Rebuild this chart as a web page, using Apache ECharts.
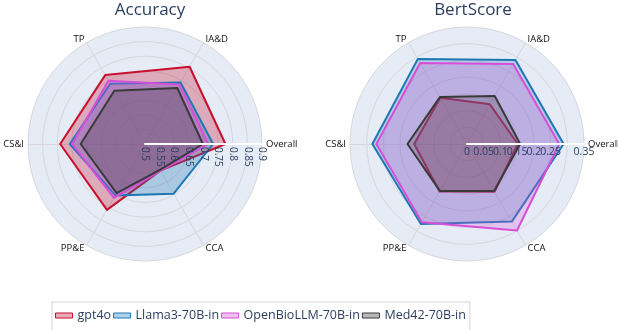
<!DOCTYPE html>
<html>
<head>
<meta charset="utf-8">
<script src="https://cdn.jsdelivr.net/npm/echarts@6/dist/echarts.min.js"></script>
<style>
  html, body { margin: 0; padding: 0; background: #fff; }
  #main { width: 618px; height: 330px; }
</style>
</head>
<body>
<div id="main"></div>
<script>
// categories and models
var categories = ['Overall', 'IA&D', 'TP', 'CS&I', 'PP&E', 'CCA'];
var models = ['gpt4o', 'Llama3-70B-in', 'OpenBioLLM-70B-in', 'Med42-70B-in'];
var colors = ['#c8102e', '#1f77b4', '#d64fd8', '#3a3a3a'];

// Accuracy (radial 0.5 - 0.9)
var accGpt4o   = [0.775, 0.805, 0.772, 0.790, 0.760, 0.605];
var accLlama   = [0.733, 0.743, 0.738, 0.757, 0.703, 0.696];
var accOpenBio = [0.716, 0.735, 0.750, 0.749, 0.713, 0.606];
var accMed42   = [0.698, 0.721, 0.710, 0.720, 0.694, 0.602];

// BertScore (radial 0 - 0.35)
var bertGpt4o   = [0.152, 0.137, 0.160, 0.158, 0.164, 0.165];
var bertLlama   = [0.289, 0.290, 0.294, 0.283, 0.276, 0.268];
var bertOpenBio = [0.276, 0.276, 0.280, 0.271, 0.270, 0.299];
var bertMed42   = [0.159, 0.166, 0.162, 0.178, 0.162, 0.162];

var accMin = 0.5, accMax = 0.9, accSplit = 8;
var bertMin = 0, bertMax = 0.35, bertSplit = 7;

var accData = [accGpt4o, accLlama, accOpenBio, accMed42];
var bertData = [bertGpt4o, bertLlama, bertOpenBio, bertMed42];

var font = "'Open Sans', 'DejaVu Sans', sans-serif";
var titleColor = '#2a3f5f';

// tick text like 0.05 instead of 0.0499999
function tickFmt(v) {
    return String(parseFloat(Number(v).toFixed(2)));
}

// background radar: disc, grid circles, spokes, category names
function bgRadar(center, min, max, split) {
    return {
        center: center,
        radius: 117,
        startAngle: 0,
        shape: 'circle',
        splitNumber: split,
        z: 0,
        indicator: categories.map(function (c) { return {name: c, min: min, max: max}; }),
        axisName: {color: '#111111', fontSize: 9.5, fontFamily: font},
        axisNameGap: 4,
        splitArea: {show: true, areaStyle: {color: ['#E5ECF6']}},
        splitLine: {lineStyle: {color: '#d6d7dc', width: 1}},
        axisLine: {lineStyle: {color: '#d6d7dc', width: 1}},
        axisTick: {show: false},
        axisLabel: {show: false}
    };
}

// overlay radar: only the radial axis line + tick labels on Overall, drawn above the fills
function topRadar(center, min, max, split, labelOpt) {
    return {
        center: center,
        radius: 117,
        startAngle: 0,
        shape: 'circle',
        splitNumber: split,
        z: 10,
        indicator: categories.map(function (c, i) {
            var ind = {name: c, min: min, max: max};
            if (i === 0) {
                ind.axisLine = {show: true, lineStyle: {color: '#ffffff', width: 2}};
                ind.axisLabel = labelOpt;
            }
            return ind;
        }),
        axisName: {show: false},
        splitArea: {show: false},
        splitLine: {show: false},
        axisLine: {show: false},
        axisTick: {show: false},
        axisLabel: {show: false}
    };
}

function radarSeries(radarIndex, data, alpha) {
    return {
        type: 'radar',
        radarIndex: radarIndex,
        symbol: 'none',
        z: 2,
        data: models.map(function (m, i) {
            return {
                name: m,
                value: data[i],
                lineStyle: {color: colors[i], width: 2},
                areaStyle: {color: colors[i], opacity: alpha},
                itemStyle: {color: colors[i]}
            };
        })
    };
}

var myChart = echarts.init(document.getElementById('main'), null, {renderer: 'canvas'});

var option = {
    animation: false,
    backgroundColor: '#ffffff',
    title: [
        {text: 'Accuracy', left: 145, top: -3, textAlign: 'center',
         textStyle: {color: titleColor, fontSize: 17, fontWeight: 'normal', fontFamily: font}},
        {text: 'BertScore', left: 468, top: -3, textAlign: 'center',
         textStyle: {color: titleColor, fontSize: 17, fontWeight: 'normal', fontFamily: font}}
    ],
    legend: {
        left: 52,
        top: 302,
        icon: 'rect',
        itemWidth: 17,
        itemHeight: 5,
        itemGap: 2,
        padding: [7, 4, 12, 3],
        borderColor: '#d4d4d4',
        borderWidth: 1,
        textStyle: {color: titleColor, fontSize: 12.5, fontFamily: font},
        data: models.map(function (m, i) {
            return {name: m, itemStyle: {color: echarts.color.modifyAlpha(colors[i], 0.35), borderColor: colors[i], borderWidth: 1}};
        })
    },
    radar: [
        bgRadar([145, 144], accMin, accMax, accSplit),
        bgRadar([467, 144], bertMin, bertMax, bertSplit),
        topRadar([145, 144], accMin, accMax, accSplit, {
            show: true, rotate: -90, align: 'left', verticalAlign: 'middle', margin: -3,
            showMinLabel: true, showMaxLabel: true, hideOverlap: false,
            color: titleColor, fontSize: 10, fontFamily: font, formatter: tickFmt
        }),
        topRadar([467, 144], bertMin, bertMax, bertSplit, {
            show: true, rotate: 0, align: 'center', verticalAlign: 'top', margin: -3,
            showMinLabel: true, showMaxLabel: true, hideOverlap: false,
            color: titleColor, fontSize: 10.5, fontFamily: font, formatter: tickFmt
        })
    ],
    series: [
        radarSeries(0, accData, 0.3),
        radarSeries(1, bertData, 0.25)
    ]
};

myChart.setOption(option);
</script>
</body>
</html>
